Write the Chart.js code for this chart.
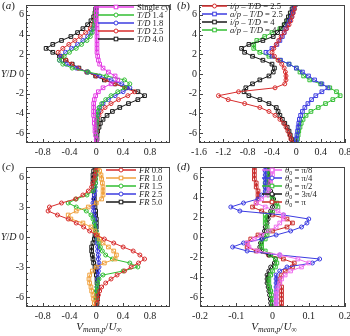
<!DOCTYPE html>
<html>
<head>
<meta charset="utf-8">
<script src="https://cdn.jsdelivr.net/npm/chart.js@4"></script>
<style>
body { margin: 0; background: #fff; width: 350px; height: 336px; position: relative; overflow: hidden; font-family: 'Liberation Serif', serif; color: #222; }
canvas { position: absolute; }
.t { position: absolute; font-size: 11px; white-space: nowrap; line-height: 1; }
.lg { position: absolute; font-size: 8.6px; line-height: 8px; white-space: nowrap; }
.lg div { height: 8px; display: flex; align-items: center; }
.lg svg { margin-right: 3px; flex: none; }
sub { font-size: 70%; vertical-align: -2px; line-height: 0; }
</style>
</head>
<body>
<canvas id="pa" width="175" height="160" style="left:0;top:0"></canvas>
<canvas id="pb" width="175" height="160" style="left:175px;top:0"></canvas>
<canvas id="pc" width="175" height="176" style="left:0;top:160px"></canvas>
<canvas id="pd" width="175" height="176" style="left:175px;top:160px"></canvas>

<div class="t" style="left:2px;top:0px">(<i>a</i>)</div>
<div class="t" style="left:177px;top:0px">(<i>b</i>)</div>
<div class="t" style="left:2px;top:161px">(<i>c</i>)</div>
<div class="t" style="left:177px;top:161px">(<i>d</i>)</div>
<div class="t" style="left:1px;top:69px;font-size:10px"><i>Y</i>/<i>D</i></div>
<div class="t" style="left:1px;top:232px;font-size:10px"><i>Y</i>/<i>D</i></div>
<div class="t" style="left:99px;top:321px;transform:translateX(-50%)"><i>V<sub>mean,p</sub></i>/<i>U</i><sub>∞</sub></div>
<div class="t" style="left:274px;top:321px;transform:translateX(-50%)"><i>V<sub>mean,p</sub></i>/<i>U</i><sub>∞</sub></div>

<div class="lg" id="la" style="left:98px;top:3px"></div>
<div class="lg" id="lb" style="left:202px;top:2px"></div>
<div class="lg" id="lc" style="left:106px;top:166px"></div>
<div class="lg" id="ld" style="left:262px;top:166px"></div>

<script>
// wall-normal positions Y/D shared by all profiles (top to bottom)
var Y_D = [7.0, 6.6, 6.2, 5.8, 5.4, 5.0, 4.6, 4.2, 3.8, 3.4, 3.0, 2.6, 2.2, 1.8, 1.4, 1.0, 0.6, 0.2,
           -0.2, -0.6, -1.0, -1.4, -1.8, -2.2, -2.6, -3.0, -3.4, -3.8, -4.2, -4.6, -5.0, -5.4, -5.8, -6.2, -6.6, -7.0];

// (a) tandem spacing
var labelsA = ['Single cyl', 'T/D 1.4', 'T/D 1.8', 'T/D 2.5', 'T/D 4.0'];
var singleCyl = [0, 0, 0, 0, 0, 0.01, 0.01, 0.01, 0.01, 0.01, 0.01, 0.01, 0.01, 0.02, 0.03, 0.05, 0.10, 0.18,
                 0.28, 0.32, 0.22, 0.10, 0.03, -0.01, -0.03, -0.04, -0.04, -0.04, -0.04, -0.03, -0.03, -0.02, -0.02, -0.01, 0, 0];
var td14 = [0, 0, -0.01, -0.01, -0.02, -0.03, -0.04, -0.06, -0.09, -0.14, -0.22, -0.30, -0.40, -0.48, -0.55, -0.50, -0.36, -0.12,
            0.15, 0.42, 0.50, 0.42, 0.32, 0.22, 0.14, 0.08, 0.04, 0.02, 0.01, 0.01, 0.01, 0, 0, 0, 0, 0];
var td18 = [0, 0, 0, -0.01, -0.02, -0.03, -0.05, -0.08, -0.13, -0.20, -0.28, -0.37, -0.46, -0.53, -0.55, -0.45, -0.30, -0.13,
            0.05, 0.22, 0.38, 0.50, 0.40, 0.28, 0.18, 0.10, 0.05, 0.03, 0.02, 0.01, 0.01, 0, 0, 0, 0, 0];
var td25 = [0, 0, -0.01, -0.02, -0.03, -0.05, -0.09, -0.16, -0.24, -0.32, -0.41, -0.50, -0.57, -0.52, -0.45, -0.37, -0.27, -0.14,
            0.00, 0.14, 0.28, 0.43, 0.57, 0.47, 0.33, 0.22, 0.13, 0.07, 0.04, 0.02, 0.02, 0.01, 0.01, 0, 0, 0];
var td40 = [0, -0.01, -0.02, -0.04, -0.08, -0.13, -0.20, -0.28, -0.38, -0.52, -0.65, -0.75, -0.65, -0.55, -0.46, -0.36, -0.26, -0.14,
            -0.01, 0.12, 0.28, 0.45, 0.62, 0.72, 0.62, 0.48, 0.35, 0.24, 0.16, 0.10, 0.06, 0.04, 0.02, 0.01, 0.01, 0];

// (b) in-phase / anti-phase
var labelsB = ['i/p – T/D = 2.5', 'a/p – T/D = 2.5', 'i/p – T/D = 4', 'a/p – T/D = 4'];
var ip25 = [-0.02, -0.03, -0.05, -0.07, -0.09, -0.12, -0.16, -0.20, -0.25, -0.29, -0.33, -0.37, -0.40, -0.36, -0.30, -0.24, -0.20, -0.18,
            -0.17, -0.17, -0.19, -0.35, -0.95, -1.28, -1.12, -0.85, -0.60, -0.45, -0.35, -0.27, -0.21, -0.17, -0.14, -0.11, -0.09, -0.07];
var ap25 = [-0.02, -0.04, -0.06, -0.08, -0.11, -0.14, -0.17, -0.20, -0.23, -0.27, -0.32, -0.40, -0.50, -0.40, -0.26, -0.12, 0.00, 0.10,
            0.20, 0.30, 0.42, 0.52, 0.42, 0.32, 0.25, 0.19, 0.14, 0.10, 0.07, 0.05, 0.04, 0.03, 0.02, 0.01, 0, 0];
var ip4 = [-0.04, -0.07, -0.10, -0.13, -0.16, -0.20, -0.25, -0.31, -0.38, -0.55, -0.78, -0.90, -0.85, -0.72, -0.55, -0.40, -0.36, -0.38,
           -0.45, -0.60, -0.72, -0.83, -0.86, -0.78, -0.60, -0.45, -0.33, -0.30, -0.27, -0.23, -0.19, -0.15, -0.12, -0.10, -0.08, -0.06];
var ap4 = [-0.02, -0.04, -0.07, -0.10, -0.14, -0.19, -0.27, -0.40, -0.52, -0.65, -0.70, -0.70, -0.60, -0.45, -0.27, -0.12, 0.00, 0.06,
           0.12, 0.22, 0.40, 0.55, 0.66, 0.72, 0.60, 0.48, 0.36, 0.24, 0.16, 0.11, 0.08, 0.06, 0.04, 0.03, 0.02, 0.01];

// (c) frequency ratio
var labelsC = ['FR 0.8', 'FR 1.0', 'FR 1.5', 'FR 2.5', 'FR 5.0'];
var fr08 = [0, -0.01, -0.02, -0.03, -0.05, -0.07, -0.12, -0.20, -0.31, -0.52, -0.70, -0.72, -0.58, -0.42, -0.30, -0.19, -0.10, 0.00,
            0.12, 0.26, 0.40, 0.55, 0.65, 0.72, 0.63, 0.52, 0.42, 0.31, 0.22, 0.14, 0.08, 0.05, 0.03, 0.02, 0.01, 0];
var fr10 = [0.03, 0.05, 0.07, 0.08, 0.09, 0.10, 0.10, 0.10, 0.08, 0.00, -0.12, -0.30, -0.42, -0.38, -0.20, -0.08, -0.02, 0.02,
            0.05, 0.10, 0.18, 0.26, 0.30, 0.28, 0.12, 0.00, -0.06, -0.10, -0.11, -0.10, -0.08, -0.07, -0.05, -0.04, -0.03, -0.02];
var fr15 = [0, 0, 0, -0.01, -0.01, -0.02, -0.05, -0.14, -0.30, -0.42, -0.30, -0.15, -0.08, -0.05, -0.03, -0.02, 0.00, 0.01,
            0.02, 0.04, 0.06, 0.09, 0.14, 0.24, 0.50, 0.62, 0.40, 0.10, 0.04, 0.02, 0.01, 0, 0, 0, 0, 0];
var fr25 = [0, 0, -0.01, -0.01, -0.01, -0.02, -0.02, -0.03, -0.04, -0.05, -0.05, -0.04, -0.03, -0.02, -0.02, -0.01, 0, 0,
            0.01, 0.01, 0.02, 0.02, 0.03, 0.03, 0.04, 0.04, 0.03, 0.03, 0.02, 0.02, 0.01, 0.01, 0, 0, 0, 0];
var fr50 = [-0.02, -0.04, -0.05, -0.05, -0.05, -0.04, -0.04, -0.03, -0.03, -0.02, -0.02, -0.01, -0.01, 0, 0, 0, -0.01, -0.02,
            -0.03, -0.05, -0.07, -0.07, -0.06, -0.05, -0.04, -0.02, -0.01, 0, 0.01, 0.01, 0.02, 0.02, 0.02, 0.02, 0.01, 0.01];

// (d) phase angle
var labelsD = ['θ0 = π/8', 'θ0 = π/4', 'θ0 = π/2', 'θ0 = 3π/4', 'θ0 = π'];
var th8 = [0, 0, 0, -0.005, -0.005, -0.01, -0.01, -0.015, -0.03, -0.045, -0.02, 0.015, 0.03, 0.03, 0.02, 0.01, -0.01, -0.03,
           -0.05, -0.07, -0.065, -0.04, 0.02, 0.07, 0.10, 0.08, 0.05, 0.035, 0.025, 0.02, 0.015, 0.012, 0.01, 0.01, 0.01, 0.01];
var th4 = [-0.02, -0.02, -0.02, -0.02, -0.02, -0.02, -0.02, -0.03, -0.04, -0.08, -0.115, -0.09, 0.03, 0.10, 0.095, 0.08, 0.05, 0.01,
           -0.03, -0.08, -0.11, -0.07, 0.02, 0.13, 0.11, 0.04, 0.02, 0.01, 0.01, 0.01, 0.01, 0.01, 0.01, 0.01, 0.01, 0.01];
var th2 = [-0.005, -0.01, -0.015, -0.015, -0.02, -0.02, -0.015, -0.01, 0, 0.012, 0.015, 0, -0.02, -0.02, -0.02, -0.015, -0.01, -0.015,
           -0.02, -0.03, -0.03, -0.02, -0.005, 0.008, 0.012, 0.008, 0, -0.005, -0.01, -0.01, -0.008, -0.005, -0.003, 0, 0, 0];
var th34 = [-0.01, -0.01, -0.01, -0.01, -0.01, -0.01, -0.005, 0, 0.003, 0.005, 0, -0.005, -0.01, -0.012, -0.015, -0.02, -0.022, -0.025,
            -0.028, -0.033, -0.035, -0.03, -0.01, 0.008, 0.005, -0.005, -0.01, -0.015, -0.015, -0.015, -0.012, -0.01, -0.008, -0.006, -0.005, -0.005];
var thPi = [-0.05, -0.05, -0.05, -0.05, -0.045, -0.045, -0.04, -0.04, -0.04, -0.045, -0.055, -0.03, 0, 0.04, 0.055, 0.04, 0, -0.04,
            -0.06, -0.07, -0.07, -0.045, -0.01, 0.03, 0.06, 0.055, 0.035, 0.025, 0.02, 0.02, 0.025, 0.025, 0.025, 0.025, 0.025, 0.025];

// tick labels
var xTicksAC = [-0.8, -0.4, 0, 0.4, 0.8];
var xTicksB = [-1.6, -1.2, -0.8, -0.4, 0, 0.4, 0.8];
var xTicksD = [-0.2, -0.1, 0, 0.1, 0.2];
var yTicks2 = [-6, -4, -2, 0, 2, 4, 6];
var yTicks3 = [-6, -3, 0, 3, 6];

var MAG = 'rgb(228,60,228)', GRN = 'rgb(50,190,50)', BLU = 'rgb(60,60,225)', RED = 'rgb(215,45,45)',
    BLK = 'rgb(25,25,25)', ORG = 'rgb(240,160,60)', PNK = 'rgb(238,110,238)', DRD = 'rgb(200,40,40)';

Chart.defaults.font.family = "'Liberation Serif', serif";
Chart.defaults.font.size = 10;
Chart.defaults.color = '#222';

// box frame + inward minor ticks
var framePlugin = {
  id: 'frame',
  afterDatasetsDraw: function (chart) {
    var ctx = chart.ctx, a = chart.chartArea, xs = chart.scales.x, ys = chart.scales.y;
    ctx.save();
    ctx.strokeStyle = '#444';
    ctx.lineWidth = 1;
    ctx.strokeRect(Math.round(a.left) + 0.5, Math.round(a.top) + 0.5, Math.round(a.right - a.left) - 1, Math.round(a.bottom - a.top) - 1);
    ctx.beginPath();
    var xt = xs.ticks, stepX = (xt[1].value - xt[0].value) / 5;
    for (var v = Math.ceil(xs.min / stepX - 1e-6) * stepX; v <= xs.max + 1e-9; v += stepX) {
      var px = Math.round(xs.getPixelForValue(v)) + 0.5;
      var major = xt.some(function (t) { return Math.abs(t.value - v) < stepX / 10; });
      ctx.moveTo(px, a.bottom);
      ctx.lineTo(px, a.bottom - (major ? 4 : 2));
    }
    var yt = ys.ticks, stepY = (yt[1].value - yt[0].value) / 5;
    for (var w = Math.ceil(ys.min / stepY - 1e-6) * stepY; w <= ys.max + 1e-9; w += stepY) {
      var py = Math.round(ys.getPixelForValue(w)) + 0.5;
      var majorY = yt.some(function (t) { return Math.abs(t.value - w) < stepY / 10; });
      ctx.moveTo(a.left, py);
      ctx.lineTo(a.left + (majorY ? 4 : 2), py);
    }
    ctx.stroke();
    ctx.restore();
  }
};

function makePanel(id, series, o) {
  var canvas = document.getElementById(id);
  return new Chart(canvas, {
    type: 'scatter',
    data: {
      datasets: series.map(function (s) {
        return {
          label: s.label,
          data: s.x.map(function (v, i) { return { x: v, y: Y_D[i] }; }),
          showLine: true,
          borderColor: s.color,
          borderWidth: 1,
          backgroundColor: 'rgba(0,0,0,0)',
          pointStyle: s.shape,
          pointRadius: s.shape === 'rect' ? 2.6 : 2,
          pointBorderWidth: 1,
          pointBorderColor: s.color,
          pointBackgroundColor: 'rgba(0,0,0,0)'
        };
      })
    },
    options: {
      responsive: false,
      animation: false,
      layout: { padding: { left: 0, top: o.top, right: canvas.width - o.right, bottom: 0 } },
      plugins: { legend: { display: false }, tooltip: { enabled: false } },
      scales: {
        x: {
          type: 'linear', min: o.xmin, max: o.xmax,
          grid: { display: false, drawTicks: false }, border: { display: false },
          ticks: { padding: 3, autoSkip: false, maxRotation: 0, callback: function (v) { return String(v); } },
          afterBuildTicks: function (s) { s.ticks = o.xt.map(function (v) { return { value: v }; }); },
          afterFit: function (s) { s.height = canvas.height - o.bottom; s.paddingLeft = 0; s.paddingRight = 0; }
        },
        y: {
          type: 'linear', min: -7, max: 7,
          grid: { display: false, drawTicks: false }, border: { display: false },
          ticks: { padding: 2, autoSkip: false, callback: function (v) { return String(v); } },
          afterBuildTicks: function (s) { s.ticks = o.yt.map(function (v) { return { value: v }; }); },
          afterFit: function (s) { s.width = o.left; s.paddingTop = 0; s.paddingBottom = 0; }
        }
      }
    },
    plugins: [framePlugin]
  });
}

function fmt(t) {
  return t.replace(/θ0/g, '<i>θ</i><sub>0</sub>').replace(/(T\/D|i\/p|a\/p|FR)/g, '<i>$1</i>');
}

function legend(id, series, w) {
  var html = series.map(function (s) {
    var m = s.shape === 'rect'
      ? '<rect x="' + (w / 2 - 1.8) + '" y="2.2" width="3.6" height="3.6" fill="#fff" stroke="' + s.color + '" stroke-width="1"/>'
      : '<circle cx="' + (w / 2) + '" cy="4" r="2" fill="#fff" stroke="' + s.color + '" stroke-width="1"/>';
    return '<div><svg width="' + w + '" height="8"><line x1="0" y1="4" x2="' + w + '" y2="4" stroke="' + s.color +
      '" stroke-width="1.5"/>' + m + '</svg><span>' + fmt(s.label) + '</span></div>';
  }).join('');
  document.getElementById(id).innerHTML = html;
}

var seriesA = [
  { label: labelsA[0], x: singleCyl, color: MAG, shape: 'rect' },
  { label: labelsA[1], x: td14, color: GRN, shape: 'circle' },
  { label: labelsA[2], x: td18, color: BLU, shape: 'circle' },
  { label: labelsA[3], x: td25, color: RED, shape: 'circle' },
  { label: labelsA[4], x: td40, color: BLK, shape: 'rect' }
];
var seriesB = [
  { label: labelsB[0], x: ip25, color: RED, shape: 'circle' },
  { label: labelsB[1], x: ap25, color: BLU, shape: 'rect' },
  { label: labelsB[2], x: ip4, color: BLK, shape: 'rect' },
  { label: labelsB[3], x: ap4, color: GRN, shape: 'rect' }
];
var seriesC = [
  { label: labelsC[0], x: fr08, color: RED, shape: 'circle' },
  { label: labelsC[1], x: fr10, color: ORG, shape: 'rect' },
  { label: labelsC[2], x: fr15, color: GRN, shape: 'circle' },
  { label: labelsC[3], x: fr25, color: BLU, shape: 'circle' },
  { label: labelsC[4], x: fr50, color: BLK, shape: 'rect' }
];
var seriesD = [
  { label: labelsD[0], x: th8, color: PNK, shape: 'rect' },
  { label: labelsD[1], x: th4, color: BLU, shape: 'circle' },
  { label: labelsD[2], x: th2, color: GRN, shape: 'rect' },
  { label: labelsD[3], x: th34, color: BLK, shape: 'circle' },
  { label: labelsD[4], x: thPi, color: DRD, shape: 'rect' }
];

makePanel('pa', seriesA, { left: 26, right: 173, top: 4, bottom: 143, xmin: -1.05, xmax: 1.1, xt: xTicksAC, yt: yTicks2 });
makePanel('pb', seriesB, { left: 24, right: 172, top: 4, bottom: 143, xmin: -1.6, xmax: 0.8, xt: xTicksB, yt: yTicks2 });
makePanel('pc', seriesC, { left: 26, right: 173, top: 7, bottom: 147, xmin: -1.05, xmax: 1.1, xt: xTicksAC, yt: yTicks3 });
makePanel('pd', seriesD, { left: 25, right: 172, top: 7, bottom: 147, xmin: -0.2, xmax: 0.2, xt: xTicksD, yt: yTicks2 });

legend('la', seriesA, 36);
legend('lb', seriesB, 25);
legend('lc', seriesC, 30);
legend('ld', seriesD, 20);
</script>
</body>
</html>
